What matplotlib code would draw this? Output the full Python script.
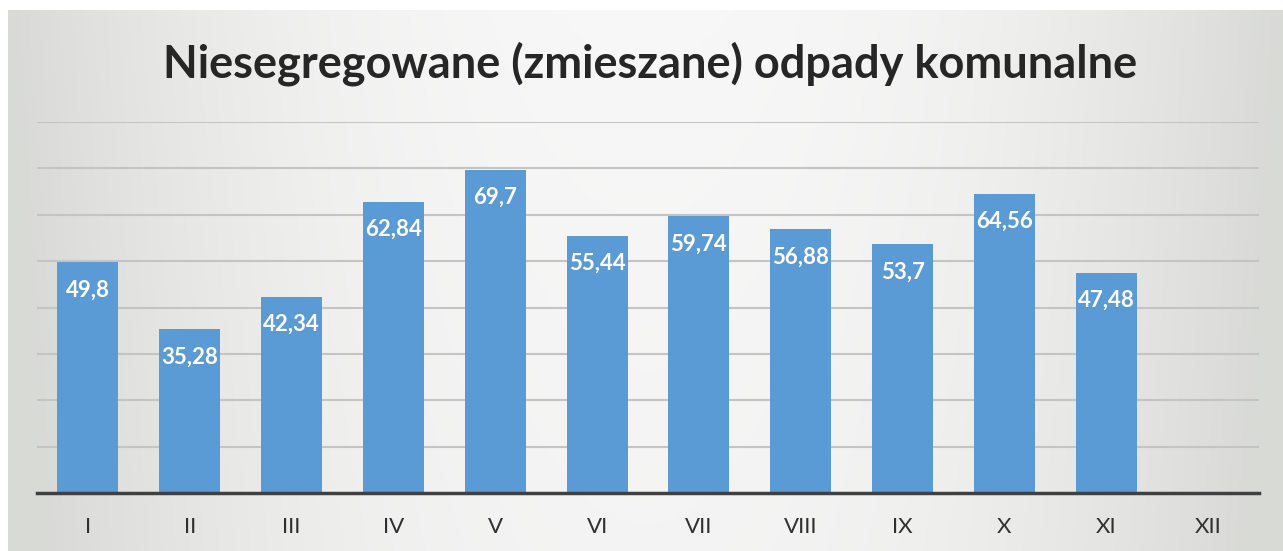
import numpy as np
import matplotlib
matplotlib.use("Agg")
import matplotlib.pyplot as plt

months = ["I", "II", "III", "IV", "V", "VI", "VII", "VIII", "IX", "X", "XI", "XII"]
values = [49.8, 35.28, 42.34, 62.84, 69.7, 55.44, 59.74, 56.88, 53.7, 64.56, 47.48, None]
labels = ["49,8", "35,28", "42,34", "62,84", "69,7", "55,44", "59,74", "56,88", "53,7", "64,56", "47,48", ""]
title = "Niesegregowane (zmieszane) odpady komunalne"

W, H = 1283, 551
fig = plt.figure(figsize=(W / 100, H / 100), dpi=100)
fig.patch.set_facecolor("white")

# background gradient panel
bg = fig.add_axes([8 / W, 0, 1 - 8 / W, 1 - 10 / H], zorder=0)
nx, ny = 400, 100
xs = np.linspace(-1, 1, nx)
ys = np.linspace(0, 1, ny)
X, Y = np.meshgrid(xs, ys)
light = np.array([0.97, 0.97, 0.97])
dark = np.array([0.85, 0.855, 0.84])
t = np.clip(np.abs(X) ** 2.2 * 1.0 + 0.12 * Y, 0, 1)[..., None]
img = light * (1 - t) + dark * t
bg.imshow(img, aspect="auto", extent=[0, 1, 0, 1], origin="upper")
bg.set_axis_off()

ax = fig.add_axes([37 / W, 1 - 493 / H, 1222 / W, (493 - 122) / H], zorder=1)
ax.patch.set_alpha(0)
x = np.arange(len(months))
plot_vals = [v if v is not None else 0 for v in values]
bars = ax.bar(x, plot_vals, width=0.6, color="#5b9bd5", zorder=3)
for xi, v, lab in zip(x, values, labels):
    if v is None:
        continue
    ax.annotate(lab, (xi, v), xytext=(0, -20), textcoords="offset points",
                ha="center", va="center", color="white", fontsize=16,
                fontweight="bold", family="Lato", zorder=4)

ax.set_xlim(-0.5, len(months) - 0.5)
ax.set_ylim(0, 80)
ax.set_yticks(np.arange(10, 81, 10))
ax.yaxis.grid(True, color="#c4c4c4", linewidth=1.5, zorder=0)
ax.tick_params(axis="y", left=False, labelleft=False)
ax.set_xticks(x)
ax.set_xticklabels(months, fontsize=16, family="Lato", color="#303030")
ax.tick_params(axis="x", length=0, pad=17)
for s in ["left", "right", "top"]:
    ax.spines[s].set_visible(False)
ax.spines["bottom"].set_color("#404040")
ax.spines["bottom"].set_linewidth(2.5)
ax.spines["bottom"].set_zorder(5)

fig.text(650 / W, 1 - 64 / H, title, ha="center", va="center", fontsize=32.5,
         fontweight="bold", family="Lato", color="#262626")

fig.savefig("out.png", dpi=100)
